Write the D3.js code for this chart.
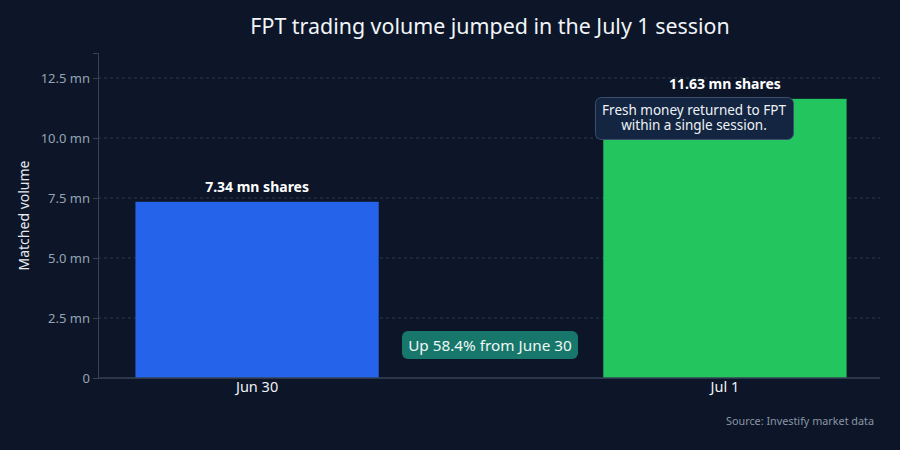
<!DOCTYPE html>
<html>
<head>
<meta charset="utf-8">
<script src="https://cdn.jsdelivr.net/npm/d3@7"></script>
<style>
  html, body { margin: 0; padding: 0; background: #0c1628; }
  svg { display: block; font-family: 'Noto Sans', 'Open Sans', sans-serif; }
</style>
</head>
<body>
<div class="viz"></div>
<script>
// data
const sessions = ['Jun 30', 'Jul 1']
const volumes = [7.34, 11.63]
const barLabels = ['7.34 mn shares', '11.63 mn shares']
const barColors = ['#2563eb', '#22c55e']
const yTicks = [0, 2.5, 5, 7.5, 10, 12.5]
const tickLabels = ['0', '2.5 mn', '5.0 mn', '7.5 mn', '10.0 mn', '12.5 mn']
const noteLines = ['Fresh money returned to FPT', 'within a single session.']

const width = 900
const height = 450
const margin = { top: 53, right: 20, bottom: 72, left: 98 }

const svg = d3.select('.viz')
  .append('svg')
    .attr('width', width)
    .attr('height', height)

svg.append('rect')
  .attr('width', width)
  .attr('height', height)
  .attr('fill', '#0c1628')

const x = d3.scaleBand()
  .domain(sessions)
  .range([margin.left, width - 16])
  .paddingInner(0.48)
  .paddingOuter(0.08)

const y = d3.scaleLinear()
  .domain([0, 13.54])
  .range([height - margin.bottom, margin.top])

// gridlines
svg.append('g')
  .selectAll('line')
  .data(yTicks.filter(d => d > 0)).enter().append('line')
    .attr('x1', margin.left)
    .attr('x2', width - margin.right)
    .attr('y1', d => y(d))
    .attr('y2', d => y(d))
    .attr('stroke', '#2a3a50')
    .attr('stroke-dasharray', '3,3')

// y axis
const yAxis = svg.append('g')
  .attr('transform', `translate(${margin.left},0)`)
  .call(d3.axisLeft(y).tickValues(yTicks).tickFormat((d, i) => tickLabels[i]).tickSize(5).tickPadding(3))
yAxis.select('.domain').attr('stroke', '#364356')
yAxis.selectAll('.tick line').attr('stroke', '#364356')
yAxis.selectAll('.tick text')
  .attr('fill', '#98a3b3')
  .attr('font-size', 13)
  .attr('font-family', "'Noto Sans', sans-serif")

// bars
svg.append('g')
  .selectAll('rect')
  .data(volumes).enter().append('rect')
    .attr('x', (d, i) => x(sessions[i]))
    .attr('y', d => y(d))
    .attr('width', x.bandwidth())
    .attr('height', d => y(0) - y(d))
    .attr('fill', (d, i) => barColors[i])

// x axis
const xAxis = svg.append('g')
  .attr('transform', `translate(0,${y(0)})`)
  .call(d3.axisBottom(x).tickSize(0).tickPadding(4))
xAxis.select('.domain')
  .attr('d', `M${margin.left},0H${width - margin.right}`)
  .attr('stroke', '#364356').attr('stroke-width', 1.5)
xAxis.selectAll('.tick text')
  .attr('fill', '#eef2f7')
  .attr('font-size', 14.5)
  .attr('font-family', "'Noto Sans', sans-serif")

// bar value labels
svg.append('g')
  .selectAll('text')
  .data(volumes).enter().append('text')
    .attr('x', (d, i) => x(sessions[i]) + x.bandwidth() / 2)
    .attr('y', d => y(d) - 10)
    .attr('text-anchor', 'middle')
    .attr('fill', '#ffffff')
    .attr('font-size', 14)
    .attr('font-weight', 'bold')
    .text((d, i) => barLabels[i])

// title
svg.append('text')
  .attr('x', 490)
  .attr('y', 34)
  .attr('text-anchor', 'middle')
  .attr('fill', '#f1f4f8')
  .attr('font-size', 21.4)
  .text('FPT trading volume jumped in the July 1 session')

// y label
svg.append('text')
  .attr('transform', `translate(29,${(y(0) + margin.top) / 2}) rotate(-90)`)
  .attr('text-anchor', 'middle')
  .attr('fill', '#e6eaf0')
  .attr('font-size', 14)
  .text('Matched volume')

// note on Jul 1 bar
const note = svg.append('g')
note.append('rect')
  .attr('x', 595.5)
  .attr('y', 97.5)
  .attr('width', 198)
  .attr('height', 42)
  .attr('rx', 6)
  .attr('fill', '#132540')
  .attr('stroke', '#3b4f6b')
note.append('text')
  .attr('x', 694)
  .attr('y', 115)
  .attr('text-anchor', 'middle')
  .attr('fill', '#eef2f7')
  .attr('font-size', 13.5)
  .selectAll('tspan')
  .data(noteLines).enter().append('tspan')
    .attr('x', 694)
    .attr('dy', (d, i) => i ? 15 : 0)
    .text(d => d)

// change badge
const badge = svg.append('g')
badge.append('rect')
  .attr('x', 402)
  .attr('y', 331)
  .attr('width', 176)
  .attr('height', 28)
  .attr('rx', 6)
  .attr('fill', '#17776b')
badge.append('text')
  .attr('x', 490)
  .attr('y', 350.5)
  .attr('text-anchor', 'middle')
  .attr('fill', '#eef7f5')
  .attr('font-size', 15.3)
  .text('Up 58.4% from June 30')

// source
svg.append('text')
  .attr('x', 874)
  .attr('y', 425)
  .attr('text-anchor', 'end')
  .attr('fill', '#8995a6')
  .attr('font-size', 10.8)
  .text('Source: Investify market data')
</script>
</body>
</html>
